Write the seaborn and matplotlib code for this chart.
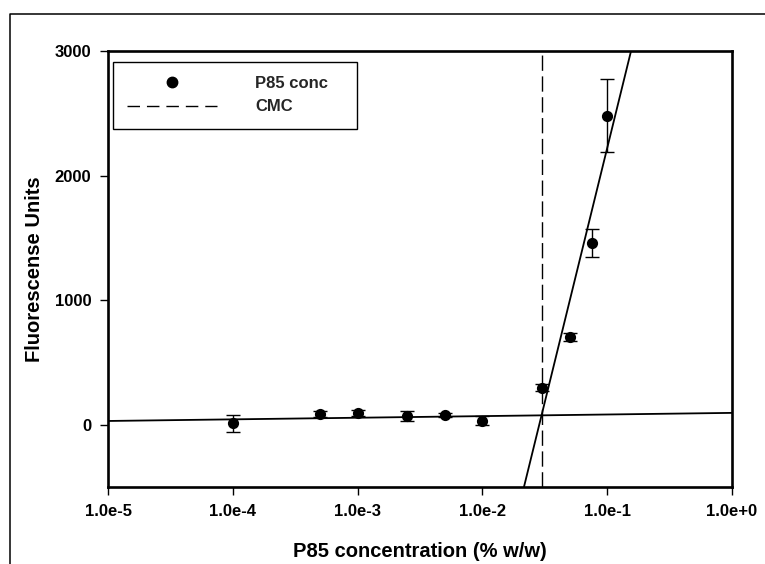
import numpy as np
import pandas as pd
import matplotlib
matplotlib.use("Agg")
import matplotlib.pyplot as plt
from matplotlib.lines import Line2D
import seaborn as sns

# Measured fluorescence vs. P85 concentration
conc = [1e-4, 5e-4, 1e-3, 2.5e-3, 5e-3, 1e-2, 3e-2, 5e-2, 7.5e-2, 1e-1]
fluor = [10, 88, 95, 72, 80, 32, 297, 706, 1462, 2482]
fluor_err = [65, 25, 25, 40, 15, 35, 30, 30, 113, 293]

# Linear fits in log10(conc): y = intercept + slope * log10(x)
pre_fit = [95, 13]        # below CMC
post_fit = [6300, 4079]   # above CMC
cmc = 0.0298

x_ticks = [1e-5, 1e-4, 1e-3, 1e-2, 1e-1, 1e0]
x_tick_labels = ["1.0e-5", "1.0e-4", "1.0e-3", "1.0e-2", "1.0e-1", "1.0e+0"]
y_ticks = [0, 1000, 2000, 3000]

sns.set_theme(style="ticks")
plt.rcParams["font.family"] = ["Liberation Sans", "DejaVu Sans"]
plt.rcParams["font.weight"] = "bold"

fig = plt.figure(figsize=(7.65, 5.64), dpi=100)
ax = fig.add_axes([108 / 765, 1 - 487 / 564, 624 / 765, 436 / 564])

df = pd.DataFrame({"conc": conc, "fluor": fluor, "err": fluor_err})

# Fit lines
xl = np.array([1e-5, 1e0])
ax.plot(xl, pre_fit[0] + pre_fit[1] * np.log10(xl), color="black", lw=1.3, zorder=2)
xs = np.array([1e-3, 1e0])
ax.plot(xs, post_fit[0] + post_fit[1] * np.log10(xs), color="black", lw=1.3, zorder=2)

# CMC marker
ax.axvline(cmc, color="black", lw=1.0, dashes=(11, 4), zorder=1)

# Data with error bars
ax.errorbar(df["conc"], df["fluor"], yerr=df["err"], fmt="none", ecolor="black",
            elinewidth=1.0, capsize=5, capthick=1.0, zorder=3)
sns.scatterplot(data=df, x="conc", y="fluor", ax=ax, color="black", s=65,
                edgecolor="black", linewidth=0, zorder=4, legend=False)

ax.set_xscale("log")
ax.set_xlim(1e-5, 1e0)
ax.set_ylim(-500, 3000)
ax.set_xticks(x_ticks)
ax.set_xticklabels(x_tick_labels)
ax.xaxis.set_minor_locator(matplotlib.ticker.NullLocator())
ax.set_yticks(y_ticks)
ax.tick_params(axis="both", which="major", direction="out", length=6, width=1,
               labelsize=12, color="black", labelcolor="black", pad=6)
for lbl in ax.get_xticklabels() + ax.get_yticklabels():
    lbl.set_fontweight("bold")
for sp in ax.spines.values():
    sp.set_visible(True)
    sp.set_linewidth(1.9)
    sp.set_color("black")

ax.set_xlabel("P85 concentration (% w/w)", fontsize=14.5, fontweight="bold",
              color="black", labelpad=17)
ax.set_ylabel("Fluorescense Units", fontsize=14.5, fontweight="bold",
              color="black", labelpad=8)

handles = [
    Line2D([], [], marker="o", color="black", ls="none", markersize=7.5),
    Line2D([], [], color="black", lw=1.0, dashes=(9, 5)),
]
leg = ax.legend(handles, ["P85 conc   ", "CMC"], loc="upper left",
                bbox_to_anchor=(0.008, 0.975), borderaxespad=0,
                frameon=True, fancybox=False, framealpha=1, edgecolor="black",
                borderpad=0.85, handlelength=5.4, handletextpad=2.3,
                labelspacing=0.5, prop={"weight": "bold", "size": 12})
leg.get_frame().set_linewidth(1.0)

# Outer border of the figure panel
fig.add_artist(Line2D([9.5 / 765, 9.5 / 765, 1.0], [0.0, 1 - 13.5 / 564, 1 - 13.5 / 564],
                      transform=fig.transFigure, color="black", lw=1.1))

fig.savefig("out.png", dpi=100)
